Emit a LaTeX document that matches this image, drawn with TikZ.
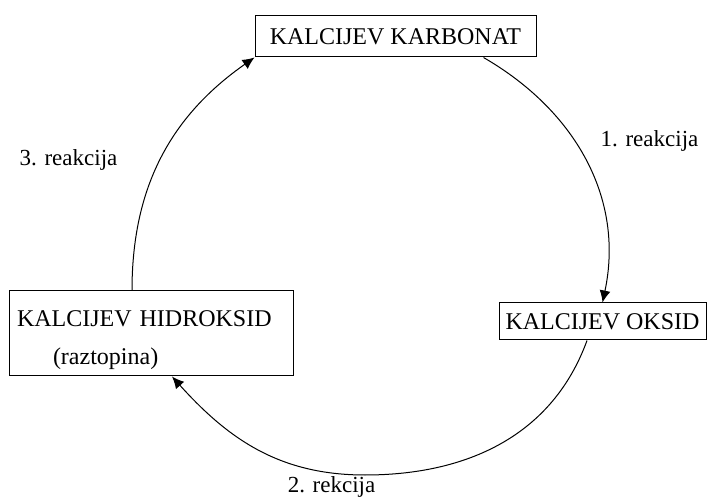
\documentclass[tikz,border=0pt]{standalone}
\usepackage{fontspec}
\setmainfont{Liberation Serif}
\usetikzlibrary{arrows.meta}
\tikzset{
  chem/.style={draw=black, line width=1pt, rectangle, inner sep=0pt,
    font=\fontsize{24}{38}\selectfont},
  lbl/.style={anchor=base, inner sep=0pt, font=\fontsize{23}{28}\selectfont},
  arr/.style={draw=black, line width=1pt, -{Latex[length=12pt,width=11pt]}}
}
\begin{document}
\begin{tikzpicture}[x=1pt,y=1pt]
\useasboundingbox (0,0) rectangle (707,501);
\node[chem, minimum width=281pt, minimum height=41pt] (karb) at (395.5,464.5) {KALCIJEV KARBONAT};
\node[chem, minimum width=207pt, minimum height=37pt] (oksid) at (602.5,179.5) {KALCIJEV OKSID};
\node[chem, minimum width=284pt, minimum height=85pt, text width=268pt, align=left, inner xsep=8pt] (hidro) at (151,167.5) {\rule{0pt}{29pt}KALCIJEV HIDROKSID\\\hspace*{36pt}(raztopina)};
\coordinate (bot) at (365,26);
\draw[arr] ([xshift=-53pt]karb.south east) to[out=-30,in=78] (oksid.north);
\draw[arr] ([xshift=-15.5pt]oksid.south) to[out=-110,in=0] (bot) to[out=180,in=-48] ([xshift=21pt]hidro.south);
\draw[arr] ([xshift=-19pt]hidro.north) to[out=90,in=-145] (karb.south west);
\node[lbl] (l1) at (649.5,354) {1. reakcija};
\node[lbl] (l2) at (331.5,9) {2. rekcija};
\node[lbl] (l3) at (68.5,335) {3. reakcija};
\end{tikzpicture}
\end{document}
